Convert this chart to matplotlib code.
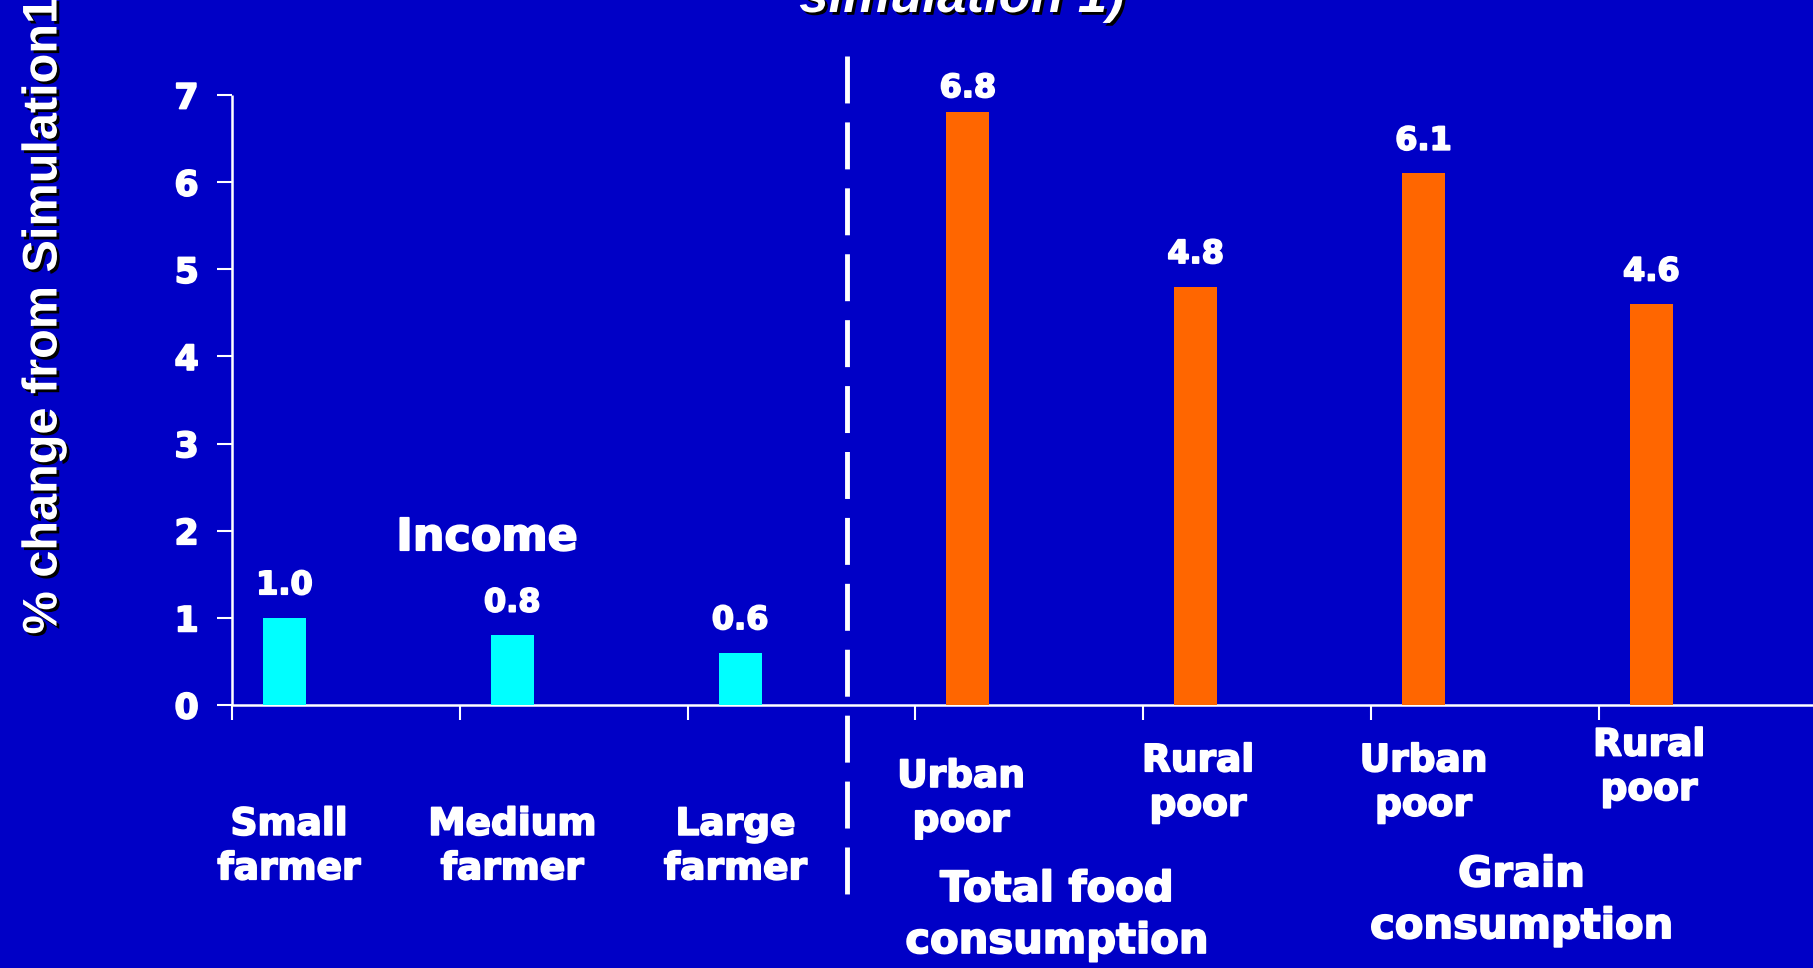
import matplotlib
matplotlib.use('Agg')
import matplotlib.pyplot as plt
import matplotlib.patheffects as pe

# data
categories = ['Small\nfarmer', 'Medium\nfarmer', 'Large\nfarmer',
              'Urban\npoor', 'Rural\npoor', 'Urban\npoor', 'Rural\npoor']
values = [1.0, 0.8, 0.6, 6.8, 4.8, 6.1, 4.6]
value_labels = ['1.0', '0.8', '0.6', '6.8', '4.8', '6.1', '4.6']
groups = ['Income', 'Total food\nconsumption', 'Grain\nconsumption']
y_label = '% change from Simulation1'
title = 'simulation 1)'

bg = '#0000C6'
cyan = '#00FFFF'
orange = '#FF6600'
colors = [cyan] * 3 + [orange] * 4

# verdana-ish heavy look
heavy = [pe.withStroke(linewidth=1.3, foreground='white')]

fig = plt.figure(figsize=(18.13, 9.68), dpi=100, facecolor=bg)
ax = fig.add_axes([232 / 1813, 263 / 968, 1 - 232 / 1813, 610 / 968])
ax.set_facecolor(bg)

# bars sit in the left part of each category slot
bar_off = 0.136
bar_w = 0.189
xs = [i + bar_off for i in range(len(values))]
ax.bar(xs, values, width=bar_w, align='edge', color=colors, zorder=3)

ax.set_xlim(0, 6.94)
ax.set_ylim(0, 7)
ax.set_xticks(range(7))
ax.set_xticklabels([])
ax.set_yticks(range(8))

for s in ['top', 'right']:
    ax.spines[s].set_visible(False)
for s in ['left', 'bottom']:
    ax.spines[s].set_color('white')
    ax.spines[s].set_linewidth(1.8)
    ax.spines[s].set_capstyle('butt')
ax.tick_params(axis='both', colors='white', length=11, width=1.5, direction='out')
ax.tick_params(axis='y', pad=13)
for lab in ax.get_yticklabels():
    lab.set_fontsize(25)
    lab.set_fontweight('bold')
    lab.set_color('white')
    lab.set_path_effects(heavy)

# value labels above bars
offsets = [12, 12, 12, 6, 12, 12, 12]
for x, v, t, o in zip(xs, values, value_labels, offsets):
    ax.annotate(t, (x + bar_w / 2, v), xytext=(0, o), textcoords='offset points',
                ha='center', va='bottom', color='white', fontsize=23,
                fontweight='bold', path_effects=heavy)

# category labels under the axis
cat_y = [-1.63, -1.63, -1.63, -1.08, -0.90, -0.90, -0.72]
cat_dx = [0.02, 0.0, -0.02, -0.03, 0.01, 0.0, -0.01]
for i, (c, y) in enumerate(zip(categories, cat_y)):
    ax.text(xs[i] + bar_w / 2 + cat_dx[i], y, c, ha='center', va='center',
            color='white', fontsize=27, fontweight='bold', linespacing=1.3,
            clip_on=False, path_effects=heavy)

# group labels
ax.text(1.12, 1.92, groups[0], ha='center', va='center', color='white',
        fontsize=32, fontweight='bold', path_effects=heavy)
ax.text(3.62, -2.41, groups[1], ha='center', va='center', color='white',
        fontsize=30, fontweight='bold', linespacing=1.3, clip_on=False,
        path_effects=heavy)
ax.text(5.66, -2.24, groups[2], ha='center', va='center', color='white',
        fontsize=30, fontweight='bold', linespacing=1.3, clip_on=False,
        path_effects=heavy)

# dashed separator between income and consumption
sep, = ax.plot([2.70, 2.70], [7.45, -2.18], color='white', lw=3.5,
               clip_on=False, solid_capstyle='butt', dash_capstyle='butt',
               zorder=4)
sep.set_dashes([9.66, 3.9])

shadow = [pe.withSimplePatchShadow(offset=(2, -2), shadow_rgbFace='black', alpha=1.0)]
fig.text(44 / 1813, 1 - 316 / 968, y_label, rotation=90, ha='center', va='center',
         color='white', fontsize=35, fontweight='bold', family='Liberation Sans',
         path_effects=shadow)
fig.text(962 / 1813, 1 - 12 / 968, title, ha='center', va='baseline',
         color='white', fontsize=38, fontweight='bold', fontstyle='italic',
         family='Liberation Sans', path_effects=shadow)

fig.savefig('out.png', dpi=100, facecolor=bg)
